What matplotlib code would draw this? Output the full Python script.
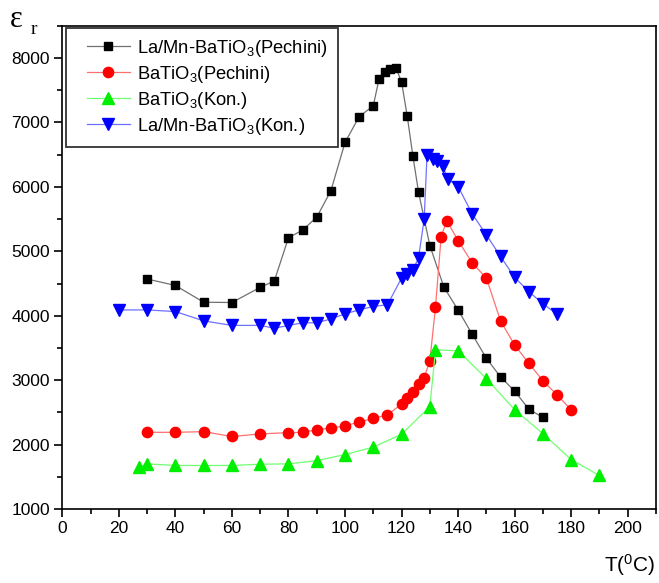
import matplotlib
matplotlib.use("Agg")
import matplotlib.pyplot as plt
from matplotlib.ticker import MultipleLocator
from matplotlib.legend_handler import HandlerLine2D

plt.rcParams['font.family'] = ['Liberation Sans', 'DejaVu Sans']

# La/Mn-doped BaTiO3, Pechini route
t_lamn_pech = [30, 40, 50, 60, 70, 75, 80, 85, 90, 95, 100, 105, 110, 112, 114,
               116, 118, 120, 122, 124, 126, 130, 135, 140, 145, 150, 155, 160,
               165, 170]
e_lamn_pech = [4570, 4470, 4210, 4205, 4440, 4540, 5210, 5330, 5530, 5940, 6690,
               7090, 7260, 7670, 7790, 7830, 7850, 7630, 7100, 6480, 5920, 5090,
               4440, 4090, 3710, 3340, 3050, 2830, 2550, 2420]

# BaTiO3, Pechini route
t_bt_pech = [30, 40, 50, 60, 70, 80, 85, 90, 95, 100, 105, 110, 115, 120, 122,
             124, 126, 128, 130, 132, 134, 136, 140, 145, 150, 155, 160, 165,
             170, 175, 180]
e_bt_pech = [2190, 2190, 2200, 2125, 2165, 2185, 2190, 2230, 2255, 2290, 2350,
             2405, 2460, 2630, 2715, 2820, 2940, 3040, 3300, 4135, 5230, 5475,
             5165, 4820, 4585, 3920, 3545, 3260, 2990, 2770, 2540]

# BaTiO3, conventional route
t_bt_kon = [27, 30, 40, 50, 60, 70, 80, 90, 100, 110, 120, 130, 132, 140, 150,
            160, 170, 180, 190]
e_bt_kon = [1650, 1700, 1675, 1675, 1675, 1695, 1700, 1750, 1845, 1960, 2160,
            2590, 3470, 3455, 3025, 2540, 2170, 1765, 1520]

# La/Mn-doped BaTiO3, conventional route
t_lamn_kon = [20, 30, 40, 50, 60, 70, 75, 80, 85, 90, 95, 100, 105, 110, 115,
              120, 122, 124, 126, 128, 129, 131, 132.5, 134.5, 136.5, 140, 145,
              150, 155, 160, 165, 170, 175]
e_lamn_kon = [4090, 4090, 4065, 3920, 3850, 3850, 3805, 3850, 3890, 3890, 3950,
              4030, 4090, 4145, 4170, 4585, 4655, 4705, 4900, 5500, 6490, 6430,
              6395, 6320, 6120, 6005, 5580, 5255, 4920, 4595, 4375, 4185, 4025]

labels = ["La/Mn-BaTiO$\\mathregular{_3}$(Pechini)",
          "BaTiO$\\mathregular{_3}$(Pechini)",
          "BaTiO$\\mathregular{_3}$(Kon.)",
          "La/Mn-BaTiO$\\mathregular{_3}$(Kon.)"]

fig = plt.figure(figsize=(6.59, 5.83), dpi=100)
ax = fig.add_axes([0.0945, 0.127, 0.901, 0.8286])

ax.plot(t_lamn_pech, e_lamn_pech, '-', color='#707070', lw=0.9, marker='s',
        ms=6.2, mfc='black', mec='black', label=labels[0])
ax.plot(t_bt_pech, e_bt_pech, '-', color='#ff7070', lw=0.9, marker='o',
        ms=7.4, mfc='#ff0000', mec='#ff0000', label=labels[1])
ax.plot(t_bt_kon, e_bt_kon, '-', color='#70ff70', lw=0.9, marker='^',
        ms=8.5, mfc='#00ee00', mec='#00ee00', label=labels[2])
ax.plot(t_lamn_kon, e_lamn_kon, '-', color='#7070ff', lw=0.9, marker='v',
        ms=8.5, mfc='#0000ff', mec='#0000ff', label=labels[3])

ax.set_xlim(0, 210)
ax.set_ylim(1000, 8500)
ax.xaxis.set_minor_locator(MultipleLocator(10))
ax.yaxis.set_minor_locator(MultipleLocator(500))
ax.set_xticks(range(0, 201, 20))
ax.set_yticks(range(1000, 8001, 1000))

ax.tick_params(which='both', direction='out', top=False, right=False,
               width=1.2, labelsize=12.5, colors='black')
ax.tick_params(which='major', length=6, pad=3)
ax.tick_params(which='minor', length=3.5)
for s in ax.spines.values():
    s.set_linewidth(1.2)

leg = ax.legend(loc='upper left', bbox_to_anchor=(0.006, 0.996),
                borderaxespad=0, fontsize=13.2, frameon=True, fancybox=False,
                edgecolor='black', handlelength=2.95, handletextpad=0.4,
                labelspacing=0.27, borderpad=0.55,
                handler_map={matplotlib.lines.Line2D: HandlerLine2D(xpad=0.6)})
leg.get_frame().set_linewidth(1.3)

fig.text(0.015, 0.942, "ε", family='Liberation Serif', fontsize=22,
         ha='left', va='bottom')
fig.text(0.046, 0.935, "r", family='Liberation Serif', fontsize=14,
         ha='left', va='bottom')
fig.text(0.995, 0.008, "T($\\mathregular{^0}$C)", fontsize=15,
         ha='right', va='bottom')

fig.savefig("out.png", dpi=100)
